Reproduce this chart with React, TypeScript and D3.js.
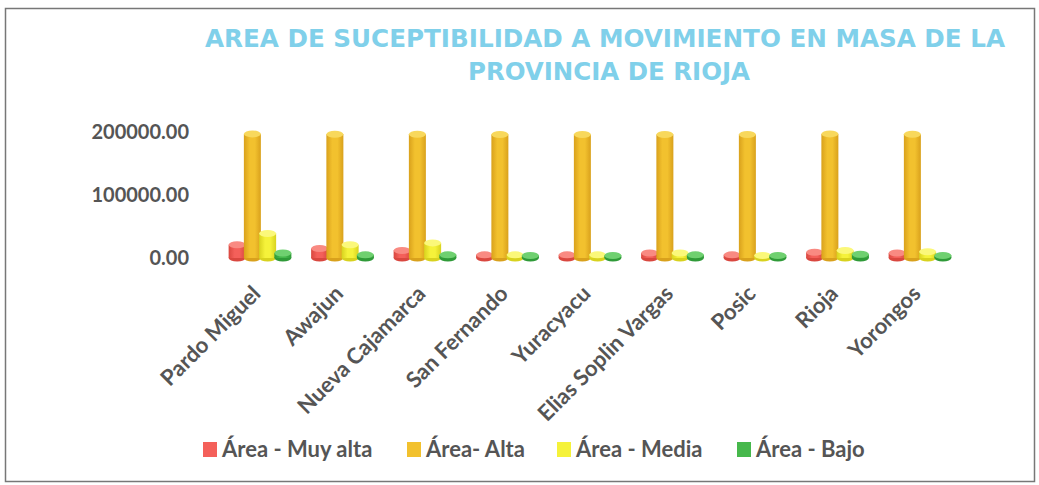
import React, { useEffect, useRef } from 'react';
import * as d3 from 'd3';

const categories = ['Pardo Miguel', 'Awajun', 'Nueva Cajamarca', 'San Fernando', 'Yuracyacu', 'Elias Soplin Vargas', 'Posic', 'Rioja', 'Yorongos'];
const seriesNames = ['Área - Muy alta', 'Área- Alta', 'Área - Media', 'Área - Bajo'];
const muyAlta = [21000, 15000, 12000, 5000, 5000, 8000, 5000, 9000, 8000];
const alta = [197000, 196500, 196500, 196000, 196000, 196000, 196000, 197000, 196500];
const media = [39000, 21000, 24000, 5000, 5000, 8000, 4000, 12000, 10000];
const bajo = [8000, 5000, 5000, 4000, 4000, 5000, 4000, 6000, 4000];
const yTicks = [0, 100000, 200000];
const colors = ['#f4605a', '#f2c12e', '#f5f23a', '#46b84c'];
const edges = ['#d9473f', '#d9a11c', '#d8d21e', '#2f9a38'];
const tops = ['#f98a82', '#f8d85c', '#fbf87a', '#6fd070'];

const App = () => {
  const ref = useRef<SVGSVGElement>(null);

  useEffect(() => {
    if (!ref.current) return;
    const svg = d3.select(ref.current);
    svg.selectAll('*').remove();

    const W = 1039, H = 485;
    const values = [muyAlta, alta, media, bajo];

    svg.append('rect')
      .attr('x', 5.5).attr('y', 8.5).attr('width', W - 10).attr('height', H - 12)
      .attr('fill', '#fff').attr('stroke', '#777').attr('stroke-width', 1.5);

    // title
    const titleStyle = (t: d3.Selection<SVGTextElement, unknown, null, undefined>) => t
      .attr('text-anchor', 'middle')
      .attr('font-family', '"Liberation Sans Narrow", "DejaVu Sans Condensed", sans-serif')
      .attr('font-weight', 'bold')
      .attr('font-size', 24)
      .attr('fill', '#80d0ea')
      .attr('lengthAdjust', 'spacingAndGlyphs');
    svg.append('text').call(titleStyle)
      .attr('x', 605).attr('y', 47).attr('textLength', 800)
      .text('AREA DE SUCEPTIBILIDAD A MOVIMIENTO EN MASA DE LA');
    svg.append('text').call(titleStyle)
      .attr('x', 609).attr('y', 80).attr('textLength', 282)
      .text('PROVINCIA DE RIOJA');

    const x = d3.scaleBand<string>().domain(categories).range([218.75, 961.25]);
    const inner = d3.scaleBand<number>().domain([0, 1, 2, 3]).range([-30.5, 30.5]);
    const y = d3.scaleLinear().domain([0, 200000]).range([258, 132]);

    const font = 'Lato, "Open Sans", sans-serif';

    // y axis labels
    svg.append('g')
      .selectAll('text')
      .data(yTicks)
      .join('text')
      .attr('x', 189)
      .attr('y', d => y(d))
      .attr('dy', '0.35em')
      .attr('text-anchor', 'end')
      .attr('font-family', font)
      .attr('font-weight', 'bold')
      .attr('font-size', 20)
      .attr('fill', '#555')
      .text(d => d3.format('.2f')(d));

    // gradients
    const defs = svg.append('defs');
    colors.forEach((c, i) => {
      const g = defs.append('linearGradient').attr('id', `cyl${i}`).attr('x1', 0).attr('x2', 1).attr('y1', 0).attr('y2', 0);
      g.append('stop').attr('offset', '0%').attr('stop-color', edges[i]);
      g.append('stop').attr('offset', '35%').attr('stop-color', c);
      g.append('stop').attr('offset', '65%').attr('stop-color', c);
      g.append('stop').attr('offset', '100%').attr('stop-color', edges[i]);
    });

    const bw = 17;
    const ry = 3.5;
    const bars = svg.append('g');
    categories.forEach((cat, ci) => {
      values.forEach((vals, si) => {
        const cx = (x(cat) ?? 0) + x.bandwidth() / 2 + (inner(si) ?? 0) + inner.bandwidth() / 2;
        const top = y(vals[ci]);
        const base = y(0);
        const g = bars.append('g');
        g.append('ellipse')
          .attr('cx', cx).attr('cy', base).attr('rx', bw / 2).attr('ry', ry)
          .attr('fill', edges[si]);
        g.append('rect')
          .attr('x', cx - bw / 2).attr('y', top).attr('width', bw).attr('height', Math.max(0, base - top))
          .attr('fill', `url(#cyl${si})`);
        g.append('ellipse')
          .attr('cx', cx).attr('cy', top).attr('rx', bw / 2).attr('ry', ry)
          .attr('fill', tops[si]);
      });
    });

    // x labels
    svg.append('g')
      .selectAll('text')
      .data(categories)
      .join('text')
      .attr('transform', d => `translate(${(x(d) ?? 0) + x.bandwidth() / 2 + 2},${295}) rotate(-45)`)
      .attr('text-anchor', 'end')
      .attr('font-family', font)
      .attr('font-weight', 'bold')
      .attr('font-size', 22)
      .attr('fill', '#555')
      .text(d => d);

    // legend
    const legendX = [203, 407, 557, 737];
    const legend = svg.append('g');
    seriesNames.forEach((name, i) => {
      legend.append('rect')
        .attr('x', legendX[i]).attr('y', 442).attr('width', 14).attr('height', 15)
        .attr('fill', colors[i]);
      legend.append('text')
        .attr('x', legendX[i] + 19).attr('y', 457)
        .attr('font-family', font)
        .attr('font-weight', 'bold')
        .attr('font-size', 22)
        .attr('fill', '#555')
        .text(name);
    });
  }, []);

  return (
    <svg
      ref={ref}
      width={1039}
      height={485}
      style={{ position: 'absolute', left: 0, top: 0, display: 'block' }}
    />
  );
};

export default App;
